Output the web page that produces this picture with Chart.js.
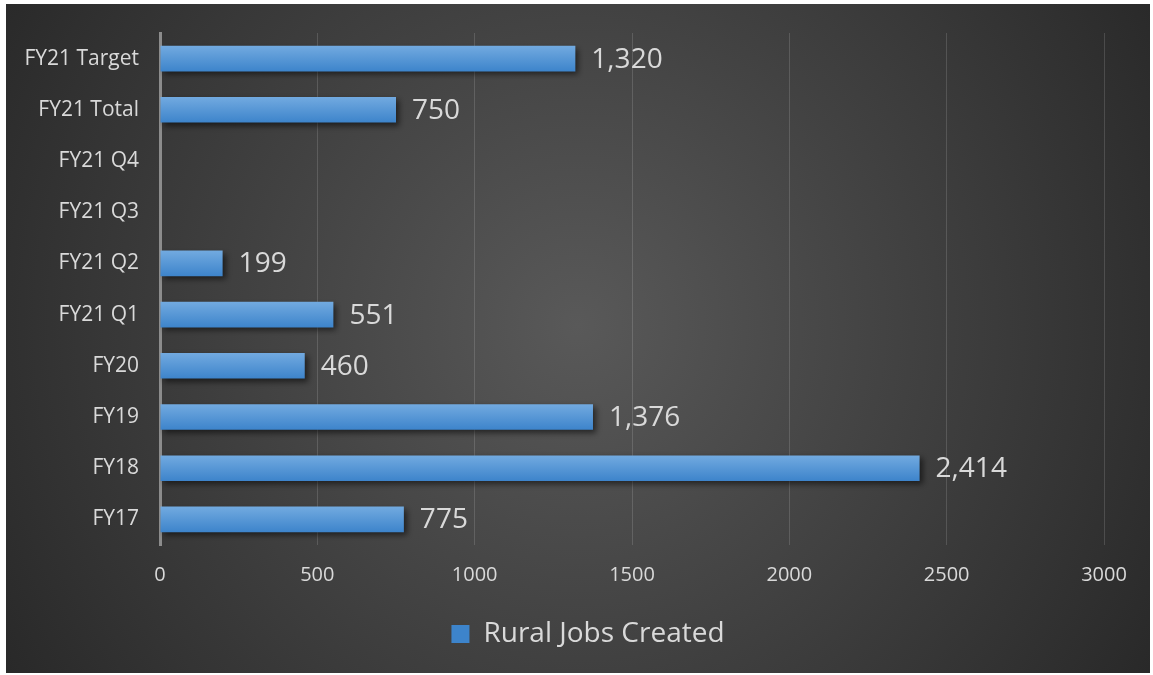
<!DOCTYPE html>
<html>
<head>
<meta charset="utf-8">
<script src="https://cdn.jsdelivr.net/npm/chart.js@4"></script>
<style>
  body { margin: 0; background: #fff; }
  #wrap { position: absolute; left: 6px; top: 4px; width: 1144px; height: 669px; }
</style>
</head>
<body>
<div id="wrap"><canvas id="chart_1"></canvas></div>
<script>
const categories = ['FY21 Target', 'FY21 Total', 'FY21 Q4', 'FY21 Q3', 'FY21 Q2', 'FY21 Q1', 'FY20', 'FY19', 'FY18', 'FY17'];
const jobs = [1320, 750, null, null, 199, 551, 460, 1376, 2414, 775];
const x_ticks = [0, 500, 1000, 1500, 2000, 2500, 3000];
const SERIES = 'Rural Jobs Created';

const FONT = "'Open Sans', sans-serif";
const TEXT = '#d9d9d9';

// dark radial backdrop
const backdrop = {
    id: 'backdrop',
    beforeDraw: chart => {
        const {ctx, width, height} = chart;
        const g = ctx.createRadialGradient(width * 0.5, height * 0.48, 0, width * 0.5, height * 0.48, width * 0.62);
        g.addColorStop(0, '#595959');
        g.addColorStop(1, '#262626');
        ctx.save();
        ctx.fillStyle = g;
        ctx.fillRect(0, 0, width, height);
        ctx.restore();
    }
};

// legend sits a bit right of the centre in the original
const legendNudge = {
    id: 'legendNudge',
    afterLayout: chart => {
        const lg = chart.legend;
        if (!lg) return;
        lg.left += 33;
        lg.right += 33;
    }
};

// bar shadow + value labels
const barExtras = {
    id: 'barExtras',
    beforeDatasetsDraw: chart => {
        const ctx = chart.ctx;
        ctx.save();
        ctx.shadowColor = 'rgba(0,0,0,0.55)';
        ctx.shadowBlur = 6;
        ctx.shadowOffsetX = 3;
        ctx.shadowOffsetY = 3;
    },
    afterDatasetsDraw: chart => {
        const ctx = chart.ctx;
        ctx.restore();
        ctx.save();
        ctx.font = `28px ${FONT}`;
        ctx.fillStyle = TEXT;
        ctx.textAlign = 'left';
        ctx.textBaseline = 'middle';
        const meta = chart.getDatasetMeta(0);
        meta.data.forEach((bar, i) => {
            const v = chart.data.datasets[0].data[i];
            if (v === null || v === undefined) return;
            ctx.fillText(v.toLocaleString('en-US'), bar.x + 16, bar.y + 1);
        });
        ctx.restore();
    }
};

const barFill = c => {
    const chart = c.chart;
    const y = chart.scales && chart.scales.y;
    if (!y || c.dataIndex === undefined || !y.height) return '#5b9bd5';
    const cy = y.getPixelForValue(c.dataIndex);
    const h = y.height / categories.length * 0.5;
    const g = chart.ctx.createLinearGradient(0, cy - h / 2, 0, cy + h / 2);
    g.addColorStop(0, '#72aae0');
    g.addColorStop(1, '#3d84cb');
    return g;
};

new Chart(document.getElementById('chart_1').getContext('2d'), {
    type: 'bar',
    data: {
        labels: categories,
        datasets: [{
            label: SERIES,
            data: jobs,
            backgroundColor: barFill,
            borderWidth: 0,
            categoryPercentage: 1,
            barPercentage: 0.5
        }]
    },
    options: {
        indexAxis: 'y',
        responsive: true,
        maintainAspectRatio: false,
        animation: false,
        events: [],
        layout: { padding: { left: 0, top: 29, right: 46, bottom: 15 } },
        scales: {
            x: {
                min: 0,
                max: 3000,
                afterBuildTicks: s => { s.ticks = x_ticks.map(v => ({value: v})); },
                afterFit: s => { s.height = 65; s.paddingLeft = 0; s.paddingRight = 0; },
                grid: { color: 'rgba(255,255,255,0.14)', lineWidth: 1, drawTicks: false },
                border: { display: false },
                ticks: {
                    color: TEXT,
                    font: { family: FONT, size: 20 },
                    padding: 18,
                    callback: v => String(v)
                }
            },
            y: {
                afterFit: s => { s.width = 154; s.paddingTop = 0; s.paddingBottom = 0; },
                grid: { display: false, drawTicks: false },
                border: { display: true, color: '#8c8c8c', width: 3 },
                ticks: {
                    color: TEXT,
                    font: { family: FONT, size: 21 },
                    padding: 21
                }
            }
        },
        plugins: {
            legend: {
                position: 'bottom',
                labels: {
                    color: TEXT,
                    font: { family: FONT, size: 28 },
                    boxWidth: 18,
                    boxHeight: 18,
                    padding: 10
                }
            },
            tooltip: { enabled: false }
        }
    },
    plugins: [backdrop, legendNudge, barExtras]
});
</script>
</body>
</html>
